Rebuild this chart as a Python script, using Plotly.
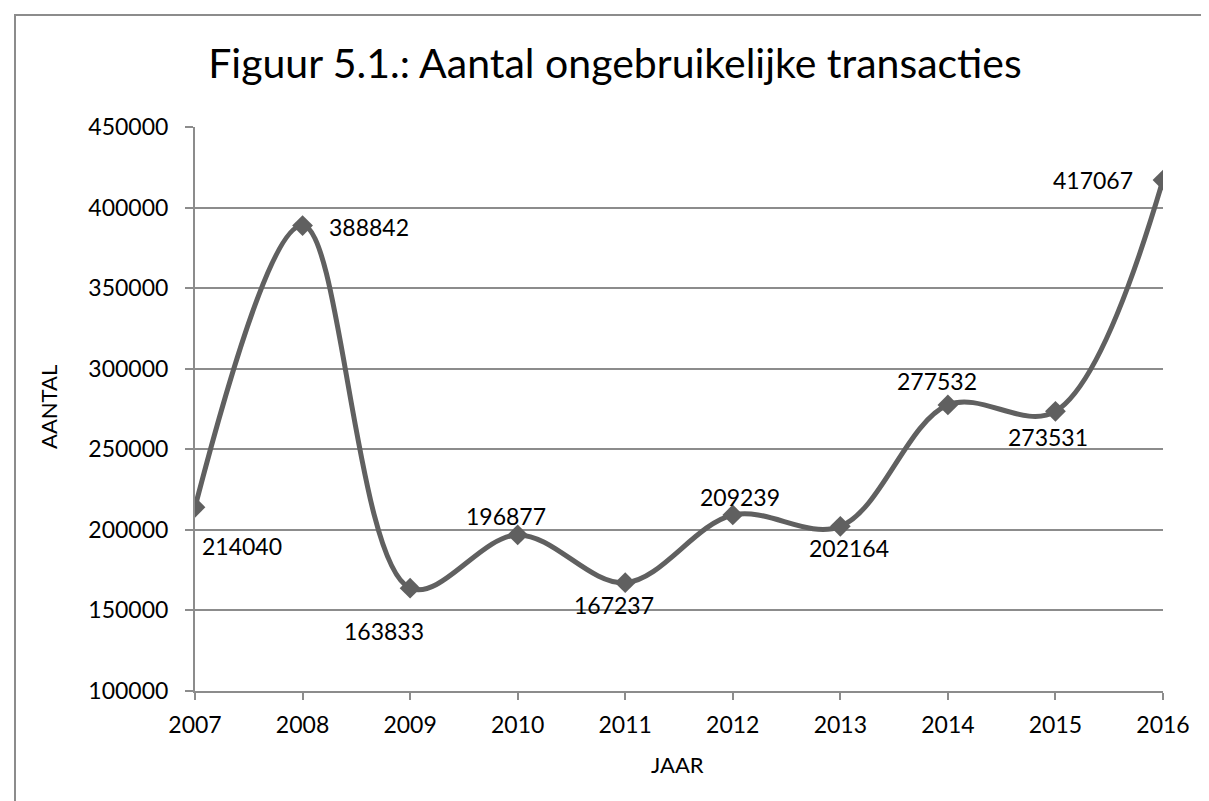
import plotly.graph_objects as go

# Data
years = [2007, 2008, 2009, 2010, 2011, 2012, 2013, 2014, 2015, 2016]
aantal = [214040, 388842, 163833, 196877, 167237, 209239, 202164, 277532, 273531, 417067]
y_ticks = [100000, 150000, 200000, 250000, 300000, 350000, 400000, 450000]

title_text = "Figuur 5.1.: Aantal ongebruikelijke transacties"
x_title = "JAAR"
y_title = "AANTAL"

# Label offsets (pixels) relative to each point
label_dx = [47, 66, -26, -12, -11, 7, 9, -11, -7, -70]
label_dy = [-39, -1, -43, 19, -22, 18, -22, 24, -26, 0]

FONT = "Lato, 'Open Sans', sans-serif"
GRID = "#8c8c8c"
LINE = "#606060"

W, H = 1209, 801
L, R, T, B = 187, 1155, 119, 683

fig = go.Figure()
fig.add_trace(go.Scatter(
    x=years, y=aantal, mode="lines+markers",
    line=dict(color=LINE, width=5, shape="spline", smoothing=1.0),
    marker=dict(symbol="diamond", size=16, color=LINE),
    showlegend=False, hoverinfo="x+y",
))

for x, y, dx, dy in zip(years, aantal, label_dx, label_dy):
    fig.add_annotation(x=x, y=y, xref="x", yref="y", text=str(y), showarrow=False,
                       xshift=dx, yshift=dy, xanchor="center", yanchor="middle",
                       font=dict(family=FONT, size=23, color="black"))

pw, ph = R - L, B - T
fig.add_annotation(x=(40 - L) / pw, y=(B - 399) / ph, xref="paper", yref="paper",
                   text=y_title, textangle=-90, showarrow=False,
                   xanchor="center", yanchor="middle",
                   font=dict(family=FONT, size=22, color="black"))
fig.add_annotation(x=(669 - L) / pw, y=(B - 756) / ph, xref="paper", yref="paper",
                   text=x_title, showarrow=False, xanchor="center", yanchor="middle",
                   font=dict(family=FONT, size=22, color="black"))

fig.add_shape(type="rect", xref="paper", yref="paper",
              x0=(7 - L) / pw, x1=(1199 - L) / pw, y0=(B - 820) / ph, y1=(B - 7) / ph,
              line=dict(color=GRID, width=2), fillcolor="rgba(0,0,0,0)", layer="below")

fig.update_layout(
    width=W, height=H,
    margin=dict(l=L, r=W - R, t=T, b=H - B, autoexpand=False),
    paper_bgcolor="white", plot_bgcolor="white",
    title=dict(text=title_text, x=607 / W, xanchor="center", y=1 - 56 / H, yanchor="middle",
               xref="container", yref="container",
               font=dict(family=FONT, size=41, color="black")),
    font=dict(family=FONT, size=23, color="black"),
    xaxis=dict(range=[2007, 2016], tickvals=years, ticktext=[str(v) for v in years],
               showgrid=False, zeroline=False, showline=True, linecolor=GRID, linewidth=2,
               ticks="outside", ticklen=7, tickwidth=2, tickcolor=GRID, ticklabelstandoff=5,
               tickfont=dict(family=FONT, size=23, color="black")),
    yaxis=dict(range=[100000, 450000], tickvals=y_ticks, ticktext=[str(v) for v in y_ticks],
               showgrid=True, gridcolor=GRID, gridwidth=2, zeroline=False,
               showline=True, linecolor=GRID, linewidth=2,
               ticks="outside", ticklen=8, tickwidth=2, tickcolor=GRID, ticklabelstandoff=12,
               tickfont=dict(family=FONT, size=23, color="black")),
)

fig.write_html("out.html")
